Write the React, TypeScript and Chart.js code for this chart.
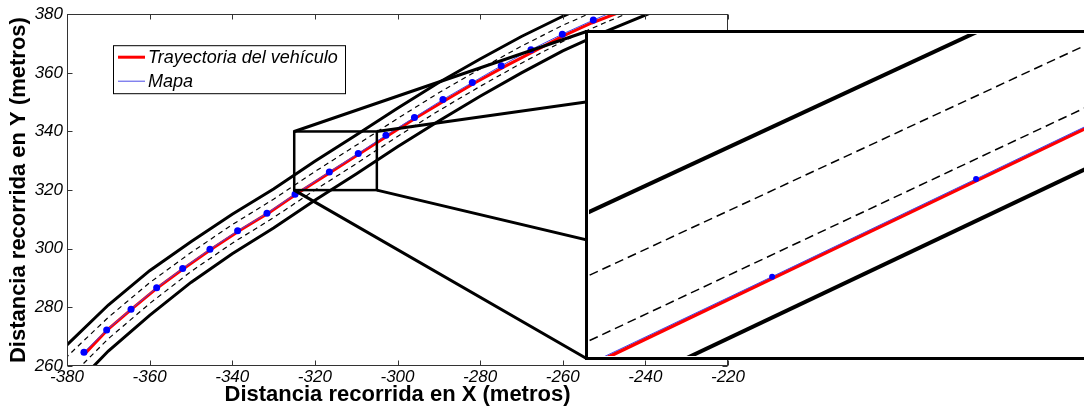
import React, { useEffect, useRef } from "react";
import { Chart, registerables } from "chart.js";

Chart.register(...registerables);

const FONT = '"Liberation Sans", Arial, Helvetica, sans-serif';

// ---- axes ----
const xRange = [-380, -220];
const yRange = [260, 380];
const tickStep = 20;
const xTitle = "Distancia recorrida en X (metros)";
const yTitle = "Distancia recorrida en Y (metros)";
const trajLabel = "Trayectoria del vehículo";
const mapLabel = "Mapa";

// ---- main plot data ----
const mapX = [-375.9, -370.4, -364.5, -358.3, -352.0, -345.4, -338.7, -331.6, -324.8, -316.5, -309.5, -302.8, -295.9, -289.0, -281.9, -274.9, -267.7, -260.1, -252.6, -245.2];
const mapY = [264.7, 272.3, 279.4, 286.7, 293.3, 299.8, 306.1, 312.1, 318.6, 326.2, 332.5, 338.7, 344.8, 350.9, 356.7, 362.4, 367.9, 373.2, 378.0, 382.4];

const trajX = [-375.6, -370, -364, -358, -352, -345, -338, -331, -324, -316, -309, -302, -295, -288, -281, -274, -267, -260, -253, -246];
const trajY = [264.3, 272.6, 279.8, 286.8, 293.0, 299.9, 306.4, 312.4, 319.1, 326.3, 332.6, 338.9, 345.1, 351.0, 356.8, 362.2, 367.3, 372.5, 377.0, 380.8];

const upperEdgeX = [-385, -380, -370, -360, -350, -340, -330, -320, -310, -300, -290, -280, -270, -260, -250];
const upperEdgeY = [260.5, 267.2, 280.8, 292.5, 302.4, 311.8, 320.4, 329.8, 338.8, 347.9, 356.7, 364.7, 372.4, 379.3, 385.5];

const lowerEdgeX = [-385, -380, -370, -360, -350, -340, -330, -320, -310, -300, -290, -280, -270, -260, -250, -240, -235];
const lowerEdgeY = [242.9, 250.6, 265.1, 277.3, 288.5, 298.3, 307.1, 316.5, 325.5, 334.8, 343.6, 352.0, 360.0, 367.5, 373.9, 379.7, 382.6];

const dashUpperX = [-385, -380, -370, -360, -350, -340, -330, -320, -310, -300, -290, -280, -270, -260, -250];
const dashUpperY = [255.8, 263.2, 276.6, 288.4, 298.7, 308.2, 316.9, 326.3, 335.3, 344.4, 353.2, 361.3, 369.1, 376.2, 382.4];

const dashLowerX = [-385, -380, -370, -360, -350, -340, -330, -320, -310, -300, -290, -280, -270, -260, -250, -240];
const dashLowerY = [247.5, 255.2, 269.3, 281.3, 292.2, 301.9, 310.6, 320.0, 329.0, 338.3, 347.1, 355.4, 363.3, 370.7, 377.0, 382.75];

// ---- zoom box (also the inset's limits) ----
const zoomBoxX = [-325, -305];
const zoomBoxY = [320, 340];

// ---- inset data ----
const insetUpperEdgeX = [-326, -304];
const insetUpperEdgeY = [328.23, 343.93];
const insetDashUpperX = [-326, -304];
const insetDashUpperY = [324.29, 339.97];
const insetDashLowerX = [-326, -304];
const insetDashLowerY = [320.22, 336.11];
const insetTrajX = [-326, -304];
const insetTrajY = [318.63, 334.83];
const insetMapX = [-326, -317.6, -309.36, -304];
const insetMapY = [318.78, 324.93, 331.0, 334.95];
const insetDotX = [-317.6, -309.36];
const insetDotY = [324.93, 331.0];
const insetLowerEdgeX = [-322, -304];
const insetLowerEdgeY = [319.18, 332.3];

const W = 1084;
const H = 414;
const INSET = { left: 585, top: 30, width: 503, height: 330 };

const pts = (xs: number[], ys: number[]) => xs.map((x, i) => ({ x, y: ys[i] }));

const RED = "#ff0000";
const BLUE_LINE = "#4a4ae6";
const BLUE_DOT = "#0000ff";

function lineDs(xs: number[], ys: number[], extra: any) {
  return {
    data: pts(xs, ys),
    borderColor: "#000",
    borderWidth: 3,
    pointRadius: 0,
    clip: 0,
    tension: 0,
    fill: false,
    ...extra,
  };
}

const mainPlugin = {
  id: "mainDecor",
  afterDatasetsDraw(chart: any) {
    const { ctx, chartArea: a, scales } = chart;
    const xs = scales.x;
    const ys = scales.y;
    ctx.save();
    const bx0 = xs.getPixelForValue(zoomBoxX[0]);
    const bx1 = xs.getPixelForValue(zoomBoxX[1]);
    const byB = ys.getPixelForValue(zoomBoxY[0]);
    const byT = ys.getPixelForValue(zoomBoxY[1]);
    const il = INSET.left + 1.5;
    const ir = INSET.left + INSET.width - 1.5;
    const it = INSET.top + 1.5;
    const ib = INSET.top + INSET.height - 1.5;
    ctx.strokeStyle = "#000";
    ctx.lineWidth = 3;
    ctx.beginPath();
    ctx.moveTo(bx0, byT);
    ctx.lineTo(il, it);
    ctx.moveTo(bx1, byT);
    ctx.lineTo(ir, it);
    ctx.moveTo(bx0, byB);
    ctx.lineTo(il, ib);
    ctx.moveTo(bx1, byB);
    ctx.lineTo(ir, ib);
    ctx.stroke();
    ctx.lineWidth = 2.5;
    ctx.strokeRect(bx0, byT, bx1 - bx0, byB - byT);

    // legend
    const lx = a.left + 46;
    const ly = a.top + 31;
    const lw = 232;
    const lh = 48;
    ctx.fillStyle = "#fff";
    ctx.fillRect(lx, ly, lw, lh);
    ctx.strokeStyle = "#000";
    ctx.lineWidth = 1;
    ctx.strokeRect(lx + 0.5, ly + 0.5, lw, lh);
    const entries = chart.data.datasets.filter((d: any) => d.label);
    entries.forEach((d: any, i: number) => {
      const yy = ly + 12 + i * 24;
      ctx.strokeStyle = d.borderColor;
      ctx.lineWidth = d.borderWidth;
      ctx.beginPath();
      ctx.moveTo(lx + 5, yy);
      ctx.lineTo(lx + 32, yy);
      ctx.stroke();
      ctx.fillStyle = "#000";
      ctx.font = `italic 18px ${FONT}`;
      ctx.textBaseline = "middle";
      ctx.textAlign = "left";
      ctx.fillText(d.label, lx + 35, yy + 1);
    });
    ctx.restore();
  },
  afterDraw(chart: any) {
    const { ctx, chartArea: a, scales } = chart;
    ctx.save();
    ctx.strokeStyle = "#333";
    ctx.lineWidth = 1;
    const L = Math.round(a.left) + 0.5;
    const R = Math.round(a.right) - 0.5;
    const T = Math.round(a.top) + 0.5;
    const B = Math.round(a.bottom) - 0.5;
    ctx.strokeRect(L, T, R - L, B - T);
    const tl = 5;
    ctx.beginPath();
    scales.x.ticks.forEach((t: any) => {
      const p = Math.round(scales.x.getPixelForValue(t.value)) + 0.5;
      ctx.moveTo(p, B);
      ctx.lineTo(p, B - tl);
      ctx.moveTo(p, T);
      ctx.lineTo(p, T + tl);
    });
    scales.y.ticks.forEach((t: any) => {
      const p = Math.round(scales.y.getPixelForValue(t.value)) + 0.5;
      ctx.moveTo(L, p);
      ctx.lineTo(L + tl, p);
      ctx.moveTo(R, p);
      ctx.lineTo(R - tl, p);
    });
    ctx.stroke();
    ctx.restore();
  },
};

const insetPlugin = {
  id: "insetFrame",
  afterDraw(chart: any) {
    const { ctx, width, height } = chart;
    ctx.save();
    ctx.strokeStyle = "#000";
    ctx.lineWidth = 3;
    ctx.strokeRect(1.5, 1.5, width - 3, height - 3);
    ctx.restore();
  },
};

export default function App() {
  const mainRef = useRef<HTMLCanvasElement>(null);
  const insetRef = useRef<HTMLCanvasElement>(null);

  useEffect(() => {
    Chart.defaults.font.family = FONT;
    const tickFont = { family: FONT, size: 17, style: "italic" as const };
    const titleFont = { family: FONT, size: 22, weight: "bold" as const };

    const main = new Chart(mainRef.current as HTMLCanvasElement, {
      type: "line",
      data: {
        datasets: [
          lineDs(upperEdgeX, upperEdgeY, { order: 6 }),
          lineDs(lowerEdgeX, lowerEdgeY, { order: 6 }),
          lineDs(dashUpperX, dashUpperY, { order: 5, borderWidth: 1.2, borderDash: [5, 4] }),
          lineDs(dashLowerX, dashLowerY, { order: 5, borderWidth: 1.2, borderDash: [5, 4] }),
          lineDs(trajX, trajY, { order: 2, borderColor: RED, borderWidth: 3, label: trajLabel }),
          lineDs(mapX, mapY, {
            order: 1,
            borderColor: BLUE_LINE,
            borderWidth: 1,
            pointRadius: 3.5,
            pointBackgroundColor: BLUE_DOT,
            pointBorderColor: BLUE_DOT,
            pointBorderWidth: 0,
            label: mapLabel,
          }),
        ],
      },
      options: {
        responsive: false,
        animation: false,
        devicePixelRatio: 1,
        events: [],
        layout: { padding: { top: 14, right: 356, bottom: 0, left: 0 } },
        plugins: { legend: { display: false }, tooltip: { enabled: false } },
        scales: {
          x: {
            type: "linear",
            min: xRange[0],
            max: xRange[1],
            ticks: {
              stepSize: tickStep,
              autoSkip: false,
              maxRotation: 0,
              padding: 1,
              color: "#000",
              font: tickFont,
              callback: (v: any) => String(v),
            },
            grid: { display: false, drawTicks: false },
            border: { display: false },
            title: {
              display: true,
              text: xTitle,
              color: "#000",
              font: titleFont,
              padding: { top: 0, bottom: 6 },
            },
            afterFit: (s: any) => {
              s.height = 48;
            },
          },
          y: {
            type: "linear",
            min: yRange[0],
            max: yRange[1],
            ticks: {
              stepSize: tickStep,
              autoSkip: false,
              padding: 4,
              color: "#000",
              font: tickFont,
              callback: (v: any) => String(v),
            },
            grid: { display: false, drawTicks: false },
            border: { display: false },
            title: {
              display: true,
              text: yTitle,
              color: "#000",
              font: titleFont,
              padding: { top: 6, bottom: 0 },
            },
            afterFit: (s: any) => {
              s.width = 67;
            },
          },
        },
      } as any,
      plugins: [mainPlugin],
    } as any);

    const inset = new Chart(insetRef.current as HTMLCanvasElement, {
      type: "line",
      data: {
        datasets: [
          lineDs(insetUpperEdgeX, insetUpperEdgeY, { order: 6, borderWidth: 4 }),
          lineDs(insetLowerEdgeX, insetLowerEdgeY, { order: 6, borderWidth: 4 }),
          lineDs(insetDashUpperX, insetDashUpperY, { order: 5, borderWidth: 1.5, borderDash: [9, 5] }),
          lineDs(insetDashLowerX, insetDashLowerY, { order: 5, borderWidth: 1.5, borderDash: [9, 5] }),
          lineDs(insetTrajX, insetTrajY, { order: 3, borderColor: RED, borderWidth: 3.5 }),
          lineDs(insetMapX, insetMapY, { order: 2, borderColor: BLUE_LINE, borderWidth: 1 }),
          lineDs(insetDotX, insetDotY, {
            order: 1,
            showLine: false,
            pointRadius: 3,
            pointBackgroundColor: BLUE_DOT,
            pointBorderColor: BLUE_DOT,
            pointBorderWidth: 0,
          }),
        ],
      },
      options: {
        responsive: false,
        animation: false,
        devicePixelRatio: 1,
        events: [],
        layout: { padding: 0 },
        plugins: { legend: { display: false }, tooltip: { enabled: false } },
        scales: {
          x: { type: "linear", display: false, min: zoomBoxX[0], max: zoomBoxX[1] },
          y: { type: "linear", display: false, min: zoomBoxY[0], max: zoomBoxY[1] },
        },
      } as any,
      plugins: [insetPlugin],
    } as any);

    return () => {
      main.destroy();
      inset.destroy();
    };
  }, []);

  return (
    <div
      style={{
        position: "absolute",
        left: 0,
        top: 0,
        width: W,
        height: H,
        overflow: "hidden",
        background: "#fff",
      }}
    >
      <canvas
        ref={mainRef}
        width={W}
        height={H}
        style={{ position: "absolute", left: 0, top: 0, width: W, height: H }}
      />
      <canvas
        ref={insetRef}
        width={INSET.width}
        height={INSET.height}
        style={{
          position: "absolute",
          left: INSET.left,
          top: INSET.top,
          width: INSET.width,
          height: INSET.height,
          background: "#fff",
        }}
      />
    </div>
  );
}
